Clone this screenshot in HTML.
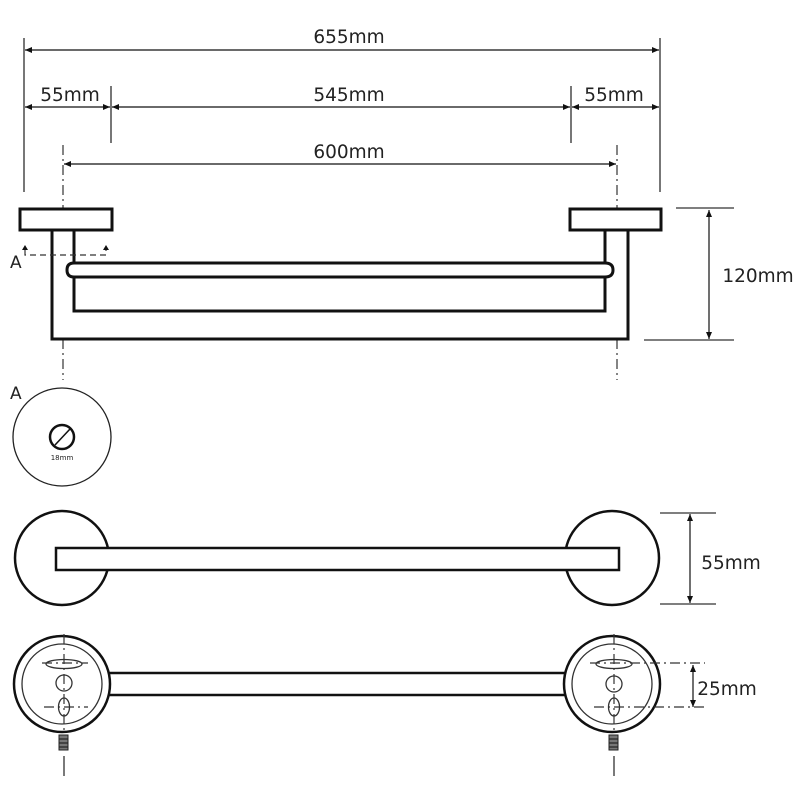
<!DOCTYPE html>
<html><head><style>body{margin:0;background:#fff}svg{display:block}text{font-family:"DejaVu Sans","Liberation Sans",sans-serif;fill:#222}</style></head>
<body>
<svg width="800" height="800" viewBox="0 0 800 800" xmlns="http://www.w3.org/2000/svg">
<defs>
<marker id="ar" markerWidth="8" markerHeight="8" refX="7" refY="4" orient="auto-start-reverse" markerUnits="userSpaceOnUse"><path d="M0,1 L7,4 L0,7 z" fill="#111"/></marker>
</defs>
<g stroke="#555" stroke-width="1.6" fill="none">
<line x1="24" y1="38" x2="24" y2="192"/>
<line x1="660" y1="38" x2="660" y2="192"/>
<line x1="111" y1="86" x2="111" y2="143"/>
<line x1="571" y1="86" x2="571" y2="143"/>
<line x1="676" y1="208" x2="734" y2="208"/>
<line x1="644" y1="340" x2="734" y2="340"/>
<line x1="660" y1="513" x2="716" y2="513"/>
<line x1="660" y1="604" x2="716" y2="604"/>
</g>
<g stroke="#111" stroke-width="1.2" fill="none" marker-start="url(#ar)" marker-end="url(#ar)">
<line x1="25" y1="50" x2="659" y2="50"/>
<line x1="25" y1="107" x2="110" y2="107"/>
<line x1="112" y1="107" x2="570" y2="107"/>
<line x1="572" y1="107" x2="659" y2="107"/>
<line x1="64" y1="164" x2="616" y2="164"/>
<line x1="709" y1="210" x2="709" y2="339"/>
<line x1="690" y1="514" x2="690" y2="603"/>
<line x1="693" y1="665" x2="693" y2="707"/>
</g>
<g stroke="#333" stroke-width="1.2" stroke-dasharray="10,4,2,4" fill="none">
<line x1="63" y1="145" x2="63" y2="209"/>
<line x1="63" y1="339" x2="63" y2="380"/>
<line x1="617" y1="145" x2="617" y2="209"/>
<line x1="617" y1="339" x2="617" y2="380"/>
</g>
<g font-size="18.5">
<text x="349" y="43" text-anchor="middle">655mm</text>
<text x="70" y="101" text-anchor="middle">55mm</text>
<text x="349" y="101" text-anchor="middle">545mm</text>
<text x="614" y="101" text-anchor="middle">55mm</text>
<text x="349" y="158" text-anchor="middle">600mm</text>
<text x="758" y="282" text-anchor="middle">120mm</text>
<text x="731" y="569" text-anchor="middle">55mm</text>
<text x="727" y="695" text-anchor="middle">25mm</text>
<text x="10" y="268" font-size="17">A</text>
<text x="10" y="399" font-size="17">A</text>
</g>
<g stroke="#111" stroke-width="3" fill="none">
<rect x="20" y="209" width="92" height="21"/>
<rect x="570" y="209" width="91" height="21"/>
<path d="M52,230 V339 H628 V230"/>
<path d="M74,230 V263 M74,277 V311 H605 V277 M605,263 V230"/>
<path d="M74,263 H605 Q613,263 613,270 Q613,277 605,277 H74 Q67,277 67,270 Q67,263 74,263 Z"/>
</g>
<path d="M25,250 V255 H106 V250" stroke="#333" stroke-width="1.2" stroke-dasharray="6,4" fill="none"/>
<path d="M22,250 L25,245 L28,250 Z M103,250 L106,245 L109,250 Z" fill="#111"/>
<circle cx="62" cy="437" r="49" stroke="#222" stroke-width="1.3" fill="none"/>
<circle cx="62" cy="437" r="12" stroke="#111" stroke-width="2.5" fill="none"/>
<line x1="55" y1="445" x2="70" y2="429" stroke="#111" stroke-width="1.5"/>
<text x="62" y="460" font-size="7" text-anchor="middle">18mm</text>
<g stroke="#111" stroke-width="2.5" fill="#fff">
<circle cx="62" cy="558" r="47"/>
<circle cx="612" cy="558" r="47"/>
<rect x="56" y="548" width="563" height="22"/>
</g>
<g stroke="#111" stroke-width="2.5" fill="#fff">
<rect x="100" y="673" width="475" height="22"/>
<circle cx="62" cy="684" r="48"/>
<circle cx="612" cy="684" r="48"/>
</g>
<g stroke="#333" stroke-width="1.3" fill="none">
<circle cx="62" cy="684" r="40"/>
<circle cx="612" cy="684" r="40"/>
<ellipse cx="64" cy="664" rx="18" ry="4.5"/>
<ellipse cx="614" cy="664" rx="18" ry="4.5"/>
<circle cx="64" cy="683" r="8"/>
<circle cx="614" cy="684" r="8"/>
<ellipse cx="64" cy="707" rx="5.5" ry="9"/>
<ellipse cx="614" cy="707" rx="5.5" ry="9"/>
</g>
<g stroke="#333" stroke-width="1.2" stroke-dasharray="10,4,2,4" fill="none">
<line x1="64" y1="634" x2="64" y2="732"/>
<line x1="614" y1="634" x2="614" y2="732"/>
<line x1="42" y1="663" x2="88" y2="663"/>
<line x1="44" y1="707" x2="88" y2="707"/>
<line x1="590" y1="663" x2="705" y2="663"/>
<line x1="594" y1="707" x2="705" y2="707"/>
</g>
<g fill="#777" stroke="#222" stroke-width="1">
<rect x="59" y="735" width="9" height="15"/>
<rect x="609" y="735" width="9" height="15"/>
</g>
<g stroke="#222" stroke-width="1.2">
<line x1="59" y1="739" x2="68" y2="739"/><line x1="59" y1="743" x2="68" y2="743"/><line x1="59" y1="747" x2="68" y2="747"/>
<line x1="609" y1="739" x2="618" y2="739"/><line x1="609" y1="743" x2="618" y2="743"/><line x1="609" y1="747" x2="618" y2="747"/>
<line x1="64" y1="756" x2="64" y2="776"/>
<line x1="614" y1="756" x2="614" y2="776"/>
</g>
</svg>
</body></html>
